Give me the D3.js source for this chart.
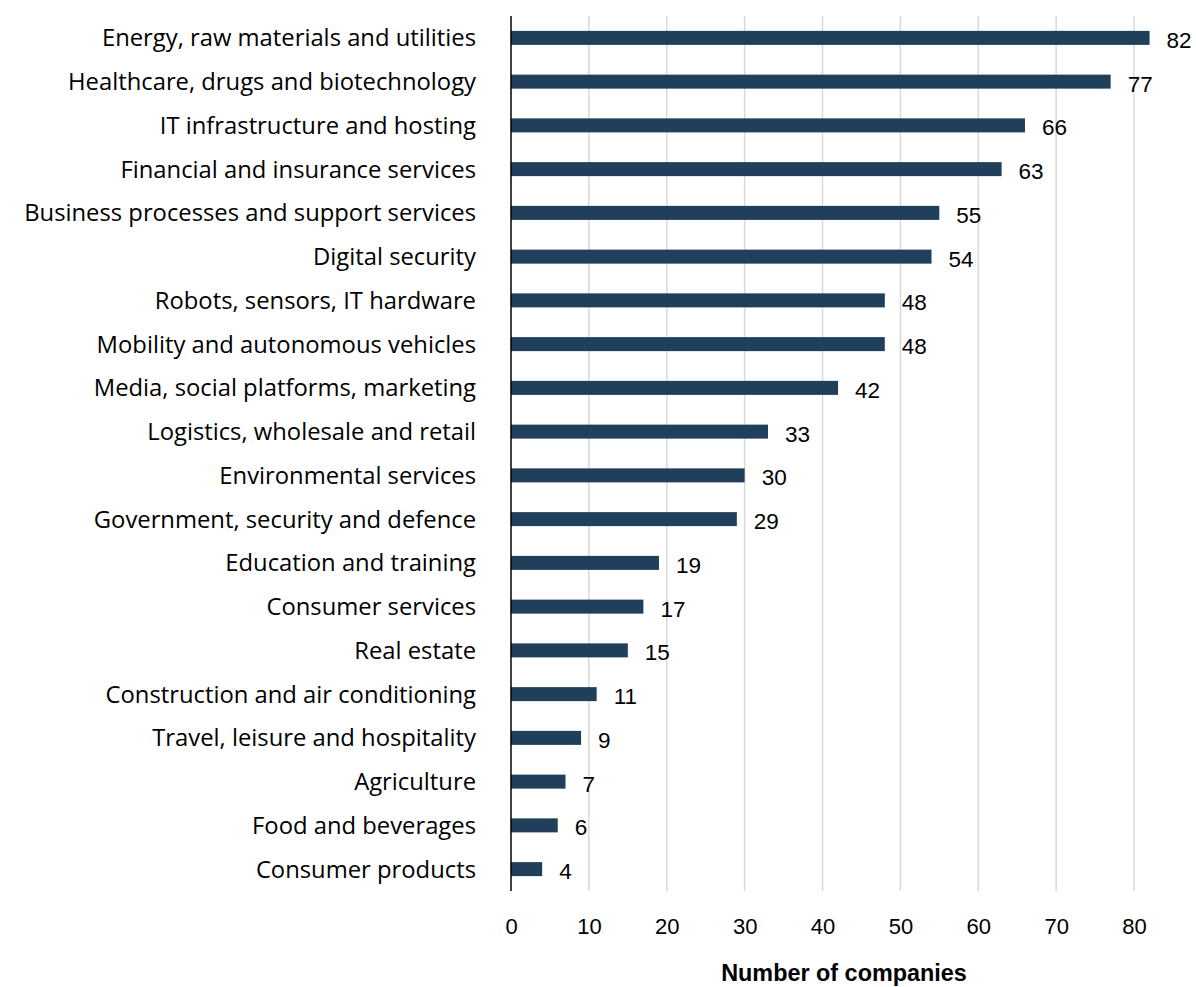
<!DOCTYPE html>
<html><head><meta charset="utf-8">
<script src="https://cdn.jsdelivr.net/npm/d3@7/dist/d3.min.js"></script>
<style>
html,body{margin:0;padding:0;background:#fff;}
svg{display:block;}
</style></head>
<body>
<svg id="chart" width="1196" height="987"></svg>
<script>
const categories = [
  "Energy, raw materials and utilities",
  "Healthcare, drugs and biotechnology",
  "IT infrastructure and hosting",
  "Financial and insurance services",
  "Business processes and support services",
  "Digital security",
  "Robots, sensors, IT hardware",
  "Mobility and autonomous vehicles",
  "Media, social platforms, marketing",
  "Logistics, wholesale and retail",
  "Environmental services",
  "Government, security and defence",
  "Education and training",
  "Consumer services",
  "Real estate",
  "Construction and air conditioning",
  "Travel, leisure and hospitality",
  "Agriculture",
  "Food and beverages",
  "Consumer products"
];
const values = [82, 77, 66, 63, 55, 54, 48, 48, 42, 33, 30, 29, 19, 17, 15, 11, 9, 7, 6, 4];
const xTicks = [0, 10, 20, 30, 40, 50, 60, 70, 80];
const axisTitle = "Number of companies";

(function () {
const svg = d3.select("#chart");
const pLeft = 511, pRight = 1134, pTop = 16, pBottom = 891;
const x = d3.scaleLinear().domain([0, 80]).range([pLeft, pRight]);
const y = d3.scaleBand().domain(categories).range([pTop, pBottom]).paddingInner(0.68).paddingOuter(0.34);

const arial = "'Liberation Sans',Arial,sans-serif";
const labelFont = "'Open Sans','Noto Sans',sans-serif";

// gridlines
svg.append("g").selectAll("line").data(xTicks.filter(d => d > 0)).join("line")
  .attr("x1", d => x(d)).attr("x2", d => x(d))
  .attr("y1", pTop).attr("y2", pBottom)
  .attr("stroke", "#d9d9d9").attr("stroke-width", 1.5);

// bars
svg.append("g").selectAll("rect").data(values).join("rect")
  .attr("x", x(0))
  .attr("y", (d, i) => y(categories[i]))
  .attr("width", d => x(d) - x(0))
  .attr("height", y.bandwidth())
  .attr("fill", "#1f3f5a");

// axis line
svg.append("line").attr("x1", x(0)).attr("x2", x(0)).attr("y1", pTop).attr("y2", pBottom)
  .attr("stroke", "#000").attr("stroke-width", 1.5);

// x axis
const xAxis = d3.axisBottom(x).tickValues(xTicks).tickSize(0).tickPadding(0);
const gx = svg.append("g").attr("transform", `translate(0,${pBottom + 27})`).call(xAxis);
gx.select(".domain").remove();
gx.selectAll("text").attr("font-family", arial).attr("font-size", 22).attr("fill", "#000");

// category labels
svg.append("g").selectAll("text").data(categories).join("text")
  .attr("x", 476)
  .attr("y", d => y(d) + y.bandwidth() / 2)
  .attr("dy", "0.36em")
  .attr("text-anchor", "end")
  .attr("font-family", labelFont)
  .attr("font-size", 23.8)
  .attr("fill", "#000")
  .text(d => d);

// value labels
svg.append("g").selectAll("text").data(values).join("text")
  .attr("x", d => x(d) + 17)
  .attr("y", (d, i) => y(categories[i]) + y.bandwidth() / 2 + 2)
  .attr("dy", "0.36em")
  .attr("font-family", arial)
  .attr("font-size", 22.5)
  .attr("fill", "#000")
  .text(d => d);

// axis title
svg.append("text")
  .attr("x", 844)
  .attr("y", 973)
  .attr("dy", "0.36em")
  .attr("text-anchor", "middle")
  .attr("font-family", arial)
  .attr("font-weight", "bold")
  .attr("font-size", 23.4)
  .attr("fill", "#000")
  .text(axisTitle);
})();
</script>
</body></html>
